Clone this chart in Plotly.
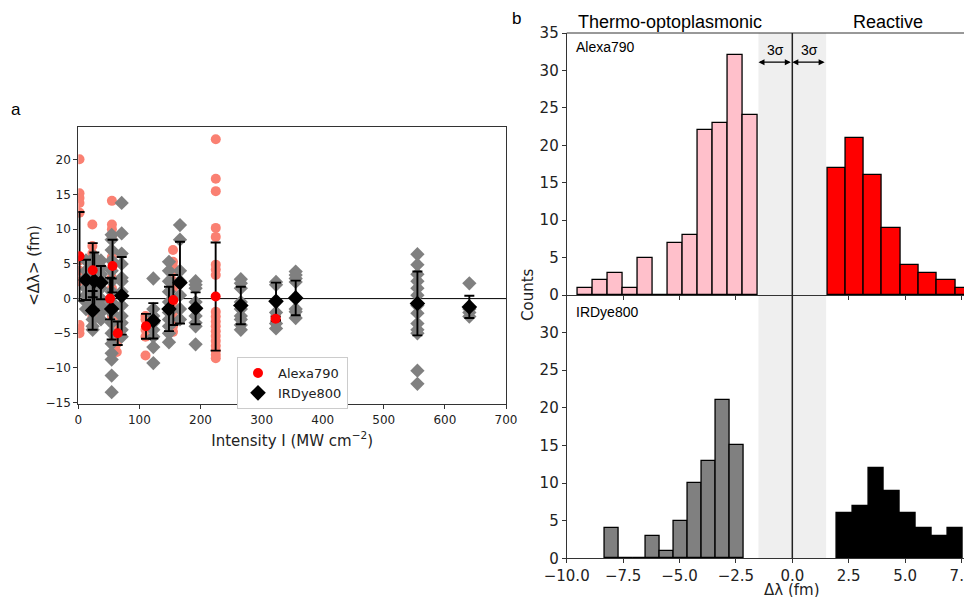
import numpy as np
import plotly.graph_objects as go

# ---------------- Panel a data ----------------
# Individual Alexa790 measurements: (intensity, list of <dl>)
alexa_ind_I = [2, 23, 55, 63, 110, 155, 225, 323]
alexa_ind_y = [
    [20.1, 15.2, 14.5, 13.8, 12.4, 5.5, 4.0, 2.5, -3.8, -4.4, -5.0],
    [10.7, 7.6, 6.5, 5.0, 2.5, 1.0, -1.0, -2.5, -4.0],
    [14.1, 10.7, 10.0, 9.0, 6.0, 3.0, 1.5, -1.0, -2.5],
    [-3.0, -4.0, -5.5, -6.5, -7.7],
    [-2.5, -3.0, -4.5, -5.5, -8.2],
    [7.0, 5.3, 4.6, 3.8, 2.5, 1.5, -1.0, -2.0, -3.0, -4.0, -4.8],
    [23.0, 17.3, 15.5, 10.2, 8.9, 4.9, 4.2, 3.4, -1.9, -2.6, -3.3, -4.0,
     -4.7, -5.4, -6.1, -6.8, -7.5, -8.1, -8.6],
    [-2.4, -2.9, -3.3, -3.7],
]
# Individual IRDye800 measurements
ird_ind_I = [12.6, 23.5, 26.2, 37, 54.6, 71, 122.8, 148.4, 166.4, 192, 266,
             323.6, 355.8, 555, 640]
ird_ind_y = [
    [5.5, 4.0, 3.0, 2.5, 1.5, 0.5, -0.5, -1.5],
    [5.0, 3.0, 1.0, -0.5, -2.0, -3.0, -4.0, -4.5],
    [6.0, 5.0, 3.5, 2.0, 0.5, -1.0],
    [5.5, 4.5, 3.5, 2.5, 1.5, 0.0, -1.0, -2.0, -3.0],
    [9.2, 8.5, 7.0, 5.5, 4.0, 2.5, 1.0, -0.5, -2.0, -3.5, -5.0, -6.5, -7.9,
     -8.8, -11.1, -13.5],
    [13.8, 9.4, 6.5, 5.0, 3.0, 2.5, 1.0, -1.0, -2.5, -3.5, -4.5, -5.5],
    [2.9, -1.5, -2.5, -3.5, -4.5, -5.5, -7.0, -9.3],
    [5.3, 4.0, 2.5, 1.0, -0.5, -2.0, -3.0, -4.0, -5.0, -6.3],
    [10.6, 8.5, 4.0, 2.5, 0.5, -1.5, -3.0],
    [2.5, 2.0, 1.5, -0.5, -1.5, -2.5, -3.5, -4.0, -6.6],
    [2.8, 2.2, 1.5, -0.5, -1.5, -2.5, -3.0, -3.8, -4.5],
    [2.4, 2.0, -2.0, -3.6, -4.3],
    [3.9, 3.4, 2.9, 2.4, -1.5, -1.9, -2.8],
    [6.4, 4.9, 3.5, 2.5, 1.5, 0.5, -1.0, -2.1, -3.6, -4.5, -5.0, -10.4, -12.3],
    [2.2, -1.5, -2.0, -2.6],
]
# Means with standard deviations
alexa_mean_I = [2, 23.6, 52, 56, 64.5, 110.8, 155.5, 224.8, 323]
alexa_mean_y = [6.1, 4.1, 0.0, 4.7, -5.0, -4.0, -0.2, 0.3, -2.9]
alexa_mean_err = [6.4, 3.9, 3.0, 3.8, 1.7, 1.8, 3.6, 7.8, 0.3]

ird_mean_I = [12.6, 23.5, 26.2, 37, 54.6, 71, 122.8, 148.4, 166.4, 192, 266,
              323.6, 355.8, 555, 640]
ird_mean_y = [2.7, -1.7, 2.55, 2.3, -1.5, 0.4, -3.2, -1.5, 2.3, -1.4, -1.0,
              -0.4, 0.1, -0.7, -1.2]
ird_mean_err = [2.9, 2.8, 4.1, 2.4, 4.4, 5.6, 2.55, 3.2, 5.9, 2.3, 2.7, 2.7,
                2.5, 4.6, 1.6]

# ---------------- Panel b data ----------------
alexa_neg_start, alexa_neg_width = -9.51, 0.664
alexa_neg_counts = [1, 2, 3, 1, 5, 0, 7, 8, 22, 23, 32, 24]
alexa_pos_start, alexa_pos_width = 1.55, 0.81
alexa_pos_counts = [17, 21, 16, 9, 4, 3, 2, 1]
ird_neg_start, ird_neg_width = -8.33, 0.617
ird_neg_counts = [4, 0, 0, 3, 1, 5, 10, 13, 21, 15]
ird_pos_start, ird_pos_width = 1.97, 0.70
ird_pos_counts = [6, 7, 12, 9, 6, 4, 3, 4]
sigma3 = 1.5

W, H = 956, 597
OFF = 8  # page body margin
def px(x): return (x - OFF) / W
def py(y): return 1 - (y - OFF) / H

DV = "DejaVu Sans"
AR = "Liberation Sans, Arial"
TXT = "#222222"

fig = go.Figure()

def flat(Is, ys):
    xs, vs = [], []
    for i, yl in zip(Is, ys):
        xs += [i] * len(yl)
        vs += yl
    return xs, vs

ax_, ay_ = flat(alexa_ind_I, alexa_ind_y)
fig.add_trace(go.Scatter(x=ax_, y=ay_, mode="markers", showlegend=False,
                         marker=dict(symbol="circle", size=10, color="#FA8072"),
                         xaxis="x", yaxis="y"))
ix_, iy_ = flat(ird_ind_I, ird_ind_y)
fig.add_trace(go.Scatter(x=ix_, y=iy_, mode="markers", showlegend=False,
                         marker=dict(symbol="diamond", size=11, color="#808080"),
                         xaxis="x", yaxis="y"))
# error bars
for I_, y_, e_ in [(ird_mean_I, ird_mean_y, ird_mean_err),
                   (alexa_mean_I, alexa_mean_y, alexa_mean_err)]:
    fig.add_trace(go.Scatter(x=I_, y=y_, mode="markers", showlegend=False,
                             marker=dict(size=2, color="rgba(0,0,0,0)"),
                             error_y=dict(type="data", array=e_, color="black",
                                          thickness=1.9, width=5),
                             xaxis="x", yaxis="y"))
fig.add_trace(go.Scatter(x=ird_mean_I, y=ird_mean_y, mode="markers", name="IRDye800",
                         marker=dict(symbol="diamond", size=12, color="black"),
                         xaxis="x", yaxis="y"))
fig.add_trace(go.Scatter(x=alexa_mean_I, y=alexa_mean_y, mode="markers", name="Alexa790",
                         marker=dict(symbol="circle", size=10, color="#FF0000"),
                         xaxis="x", yaxis="y"))

# histograms
def add_hist(start, width, counts, color, xa, ya):
    n = len(counts)
    centers = [start + width * (k + 0.5) for k in range(n)]
    fig.add_trace(go.Bar(x=centers, y=counts, width=[width] * n, showlegend=False,
                         marker=dict(color=color, line=dict(color="black", width=1.3)),
                         xaxis=xa, yaxis=ya))

add_hist(alexa_neg_start, alexa_neg_width, alexa_neg_counts, "#FFC0CB", "x2", "y2")
add_hist(alexa_pos_start, alexa_pos_width, alexa_pos_counts, "#FF0000", "x2", "y2")
add_hist(ird_neg_start, ird_neg_width, ird_neg_counts, "#808080", "x3", "y3")
add_hist(ird_pos_start, ird_pos_width, ird_pos_counts, "#000000", "x3", "y3")

tickfont_a = dict(family=DV, size=12, color=TXT)
tickfont_b = dict(family=DV, size=15, color=TXT)
axline = dict(showline=True, linecolor="#333", linewidth=1, ticks="outside",
              tickcolor="#333", ticklen=4, showgrid=False, zeroline=False,
              automargin=False)

bx0, bx1 = px(566.7), px(964)
xmax_b = 7.61
top_y = (py(295), py(33))
bot_y = (py(558.3), py(295))

fig.update_layout(
    width=W, height=H, margin=dict(l=0, r=0, t=0, b=0, autoexpand=False),
    paper_bgcolor="white", plot_bgcolor="white", bargap=0,
    xaxis=dict(domain=[px(78.3), px(506)], range=[0, 700], tickvals=list(range(0, 701, 100)),
               tickfont=tickfont_a, mirror=True,
               title=dict(text="Intensity I (MW cm<sup>−2</sup>)",
                          font=dict(family=DV, size=15, color=TXT), standoff=9),
               **axline),
    yaxis=dict(domain=[py(404.3), py(126.7)], range=[-15.25, 24.8],
               tickvals=list(range(-15, 21, 5)), tickfont=tickfont_a, mirror=True,
               title=dict(text="<Δλ> (fm)", font=dict(family=DV, size=15, color=TXT),
                          standoff=2),
               **axline),
    xaxis2=dict(domain=[bx0, bx1], range=[-10, xmax_b], anchor="y2", matches="x3",
                tickvals=[-10, -7.5, -5, -2.5, 0, 2.5, 5, 7.5], showticklabels=False,
                **axline),
    yaxis2=dict(domain=list(top_y), range=[0, 35], anchor="x2",
                tickvals=list(range(0, 36, 5)), tickfont=tickfont_b, **axline),
    xaxis3=dict(domain=[bx0, bx1], range=[-10, xmax_b], anchor="y3",
                tickvals=[-10, -7.5, -5, -2.5, 0, 2.5, 5, 7.5],
                ticktext=["−10.0", "−7.5", "−5.0", "−2.5", "0.0", "2.5", "5.0", "7.5"],
                ticklabeloverflow="allow",
                tickfont=tickfont_b, **axline),
    yaxis3=dict(domain=list(bot_y), range=[0, 35], anchor="x3",
                tickvals=list(range(0, 31, 5)), tickfont=tickfont_b, **axline),
    legend=dict(x=px(237), y=py(357), xanchor="left", yanchor="top",
                bgcolor="white", bordercolor="#cccccc", borderwidth=1,
                font=dict(family=DV, size=13, color=TXT), traceorder="reversed",
                itemwidth=30, tracegroupgap=2),
)

# top spine for top histogram panel
fig.add_shape(type="line", xref="paper", yref="paper", x0=bx0, x1=bx1,
              y0=top_y[1], y1=top_y[1], line=dict(color="#333", width=1))

# zero line panel a
fig.add_shape(type="line", xref="x", yref="y", x0=0, x1=700, y0=0, y1=0,
              line=dict(color="black", width=1), layer="below")

# 3 sigma band and zero line across panel b
for ya in ["y2", "y3"]:
    fig.add_shape(type="rect", xref="x2", yref=ya, x0=-sigma3, x1=sigma3, y0=0, y1=35,
                  fillcolor="#efefef", line=dict(width=0), layer="below")
fig.add_shape(type="line", xref="x2", yref="paper", x0=0, x1=0,
              y0=bot_y[0], y1=top_y[1], line=dict(color="#222", width=1.5))

# arrows
for xa, xb in [(-sigma3, 0), (0, sigma3)]:
    fig.add_annotation(x=xa, y=31.1, ax=xb, ay=31.1, xref="x2", yref="y2",
                       axref="x2", ayref="y2", text="", showarrow=True,
                       arrowside="end+start", arrowhead=2, arrowsize=1,
                       arrowwidth=1.2, arrowcolor="black", standoff=0, startstandoff=0)
    fig.add_annotation(x=(xa + xb) / 2, y=31.4, xref="x2", yref="y2", text="3σ",
                       showarrow=False, xanchor="center", yanchor="bottom",
                       font=dict(family=AR, size=14, color="black"))

def label(x, y, text, font, xanchor="center", angle=0):
    fig.add_annotation(x=px(x), y=py(y), xref="paper", yref="paper", text=text,
                       showarrow=False, xanchor=xanchor, yanchor="middle",
                       textangle=angle, font=font)

label(670, 22, "Thermo-optoplasmonic", dict(family=AR, size=18, color="black"))
label(888, 22, "Reactive", dict(family=AR, size=18, color="black"))
label(574, 47, "Alexa790", dict(family=AR, size=14, color="black"), xanchor="left")
label(574, 312, "IRDye800", dict(family=AR, size=14, color="black"), xanchor="left")
label(516, 18, "b", dict(family=AR, size=17, color="black"))
label(16, 110, "a", dict(family=AR, size=17, color="black"))
label(528, 295, "Counts", dict(family=DV, size=15, color=TXT), angle=-90)
label(792, 590, "Δλ (fm)", dict(family=DV, size=15, color=TXT))

fig.write_html("out.html")
